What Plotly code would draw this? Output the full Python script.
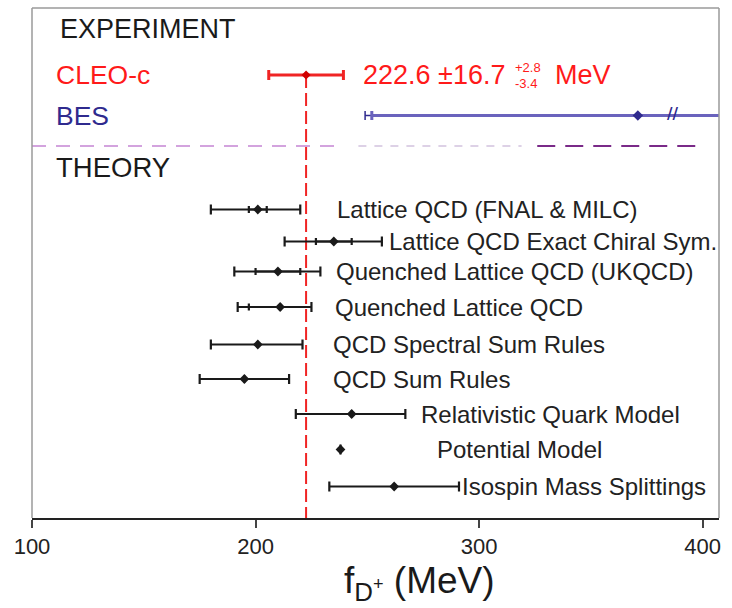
import plotly.graph_objects as go

# ---------------- data (MeV) ----------------
cleo_value = 222.6
cleo_err = 16.7

bes_value = 371
bes_err_minus_stat = 119
bes_err_minus_total = 122
bes_err_plus = 129
bes_break = 386.5

theory_names = [
    "Lattice QCD (FNAL & MILC)",
    "Lattice QCD Exact Chiral Sym.",
    "Quenched Lattice QCD (UKQCD)",
    "Quenched Lattice QCD",
    "QCD Spectral Sum Rules",
    "QCD Sum Rules",
    "Relativistic Quark Model",
    "Potential Model",
    "Isospin Mass Splittings",
]
theory_values = [201, 235, 210, 211, 201, 195, 243, 238, 262]
theory_err_plus = [19, 21.5, 19, 14, 20, 20, 24, None, 29]
theory_err_minus = [21, 22, 19.5, 19, 21, 20, 25, None, 29]
theory_inner_plus = [4, 8, 10, None, None, None, None, None, None]
theory_inner_minus = [4, 8, 10, 14, None, None, None, None, None]

x_ticks = [100, 200, 300, 400]

# ---------------- layout helpers ----------------
FONT = "Liberation Sans, Arial, Helvetica, sans-serif"
X_RANGE = [100, 407.3]
PLOT_H = 510  # vertical units of the panel (top = 0)

# vertical slot of each row (panel units, measured from the top)
cleo_row = 67
bes_row = 107.5
theory_rows = [201.5, 233.5, 263.5, 299, 336.5, 371, 406, 441.5, 478.5]
theory_label_x = [235.5, 258.9, 235.1, 234.5, 233.9, 233.9, 273.1, 280.3, 291.4]

RED = "#f02424"
NAVY = "#2f2a8e"
BES_LINE = "#6a63bd"
INK = "#1a1a1a"

fig = go.Figure()

# theory: outer (total) error bars with central values
fig.add_trace(go.Scatter(
    x=theory_values, y=theory_rows, mode="markers",
    marker=dict(symbol="diamond", size=7.5, color=INK),
    error_x=dict(type="data", symmetric=False,
                 array=theory_err_plus, arrayminus=theory_err_minus,
                 color=INK, thickness=2.2, width=5),
    hoverinfo="skip", showlegend=False,
))
# theory: inner (statistical) tick marks
fig.add_trace(go.Scatter(
    x=theory_values, y=theory_rows, mode="markers",
    marker=dict(size=0.1, color=INK, opacity=0),
    error_x=dict(type="data", symmetric=False,
                 array=theory_inner_plus, arrayminus=theory_inner_minus,
                 color=INK, thickness=2.2, width=3.5),
    hoverinfo="skip", showlegend=False,
))

# BES measurement (upper error runs off scale)
fig.add_trace(go.Scatter(
    x=[bes_value], y=[bes_row], mode="markers",
    marker=dict(size=0.1, opacity=0),
    error_x=dict(type="data", symmetric=False,
                 array=[bes_err_plus * 2], arrayminus=[bes_err_minus_total],
                 color=NAVY, thickness=1.5, width=4.5),
    hoverinfo="skip", showlegend=False,
))
fig.add_trace(go.Scatter(
    x=[bes_value], y=[bes_row], mode="markers",
    marker=dict(symbol="diamond", size=8, color=NAVY),
    error_x=dict(type="data", symmetric=False,
                 array=[bes_err_plus * 2], arrayminus=[bes_err_minus_stat],
                 color=BES_LINE, thickness=3, width=4.5),
    hoverinfo="skip", showlegend=False,
))
# axis-break mark on the BES bar
fig.add_trace(go.Scatter(
    x=[bes_break], y=[bes_row], mode="text", text=["<b>//</b>"],
    textfont=dict(family="DejaVu Sans", size=15, color=NAVY),
    hoverinfo="skip", showlegend=False,
))

# CLEO-c measurement
fig.add_trace(go.Scatter(
    x=[cleo_value], y=[cleo_row], mode="markers",
    marker=dict(symbol="diamond", size=7, color="#d00000"),
    error_x=dict(type="data", array=[cleo_err], color=RED,
                 thickness=3, width=5),
    hoverinfo="skip", showlegend=False,
))

shapes = [
    # CLEO-c central value carried down through the theory panel
    dict(type="line", xref="x", yref="y", x0=cleo_value, x1=cleo_value,
         y0=cleo_row, y1=PLOT_H, line=dict(color=RED, width=2, dash="13px,5px"),
         layer="below"),
    # separator between experiment and theory
    dict(type="line", xref="x", yref="y", x0=100, x1=239, y0=138, y1=138,
         line=dict(color="#c585d3", width=1.6, dash="14px,10px")),
    dict(type="line", xref="x", yref="y", x0=246, x1=319, y0=138, y1=138,
         line=dict(color="#d2c2de", width=1.6, dash="8px,8px")),
    dict(type="line", xref="x", yref="y", x0=326, x1=401, y0=138, y1=138,
         line=dict(color="#7a2a88", width=2, dash="18px,10px")),
    # grey frame (left, top, right)
    dict(type="line", xref="paper", yref="paper", x0=0, x1=0, y0=0, y1=1,
         line=dict(color="#9a9a9a", width=1.5)),
    dict(type="line", xref="paper", yref="paper", x0=0, x1=1, y0=1, y1=1,
         line=dict(color="#9a9a9a", width=1.5)),
    dict(type="line", xref="paper", yref="paper", x0=1, x1=1, y0=0, y1=1,
         line=dict(color="#9a9a9a", width=1.5)),
]

annotations = []


def note(text, x, y, size, color, xanchor="left", yref="y"):
    annotations.append(dict(
        text=text, x=x, y=y, xref="x", yref=yref, xanchor=xanchor,
        yanchor="middle", showarrow=False,
        font=dict(family=FONT, size=size, color=color),
    ))


note("EXPERIMENT", 111.5, 21, 27, INK)
note("THEORY", 110, 159.5, 27.5, INK)
note("CLEO-c", 110, cleo_row, 26.5, "#ff1a1a")
note("BES", 110, bes_row, 26.5, NAVY)

# CLEO-c result text
note(f"{cleo_value} \u00b1{cleo_err}", 247.2, cleo_row, 27, "#ff1a1a")
note("+2.8", 315.2, cleo_row - 8, 13, "#ff1a1a")
note("-3.4", 315.2, cleo_row + 8, 13, "#ff1a1a")
note("MeV", 333.2, cleo_row, 27, "#ff1a1a")

for name, lx, ry in zip(theory_names, theory_label_x, theory_rows):
    note(name, lx, ry, 24, "#222222")

# axis title, below the tick labels
note("f<sub>D<sup>+</sup></sub> (MeV)", 273.5, -0.128, 37, INK,
     xanchor="center", yref="paper")

fig.update_layout(
    width=732, height=608,
    margin=dict(l=32, r=13, t=8, b=90),
    paper_bgcolor="white", plot_bgcolor="white",
    showlegend=False,
    shapes=shapes,
    annotations=annotations,
    xaxis=dict(
        range=X_RANGE, tickvals=x_ticks, ticktext=[str(t) for t in x_ticks],
        showgrid=False, zeroline=False,
        showline=True, linecolor="#222222", linewidth=2,
        ticks="outside", ticklen=8, tickwidth=1.5, tickcolor="#444444",
        tickfont=dict(family=FONT, size=22, color="#222222"),
        fixedrange=True,
    ),
    yaxis=dict(range=[PLOT_H, 0], visible=False, showgrid=False,
               zeroline=False, fixedrange=True),
)

fig.write_html("out.html")
